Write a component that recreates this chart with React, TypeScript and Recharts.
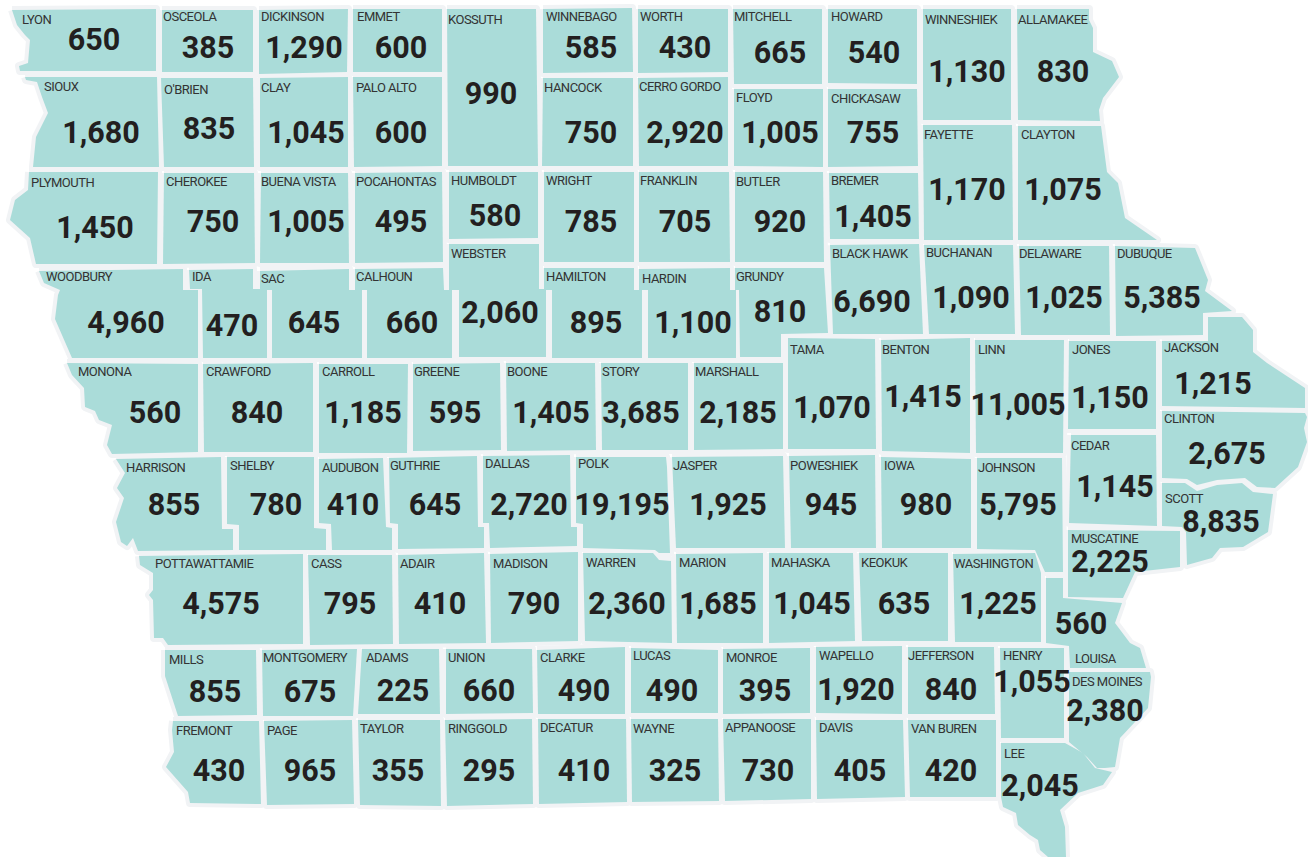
import { ScatterChart, Scatter, XAxis, YAxis } from 'recharts';

const WIDTH = 1308;
const HEIGHT = 857;

// every list below runs in the same county order
const countyNames = [
  'LYON', 'OSCEOLA', 'DICKINSON', 'EMMET', 'KOSSUTH', 'WINNEBAGO', 'WORTH', 'MITCHELL', 'HOWARD', 'WINNESHIEK', 'ALLAMAKEE',
  'SIOUX', "O'BRIEN", 'CLAY', 'PALO ALTO', 'HANCOCK', 'CERRO GORDO', 'FLOYD', 'CHICKASAW', 'FAYETTE', 'CLAYTON',
  'PLYMOUTH', 'CHEROKEE', 'BUENA VISTA', 'POCAHONTAS', 'HUMBOLDT', 'WRIGHT', 'FRANKLIN', 'BUTLER', 'BREMER',
  'BLACK HAWK', 'BUCHANAN', 'DELAWARE', 'DUBUQUE', 'WEBSTER',
  'WOODBURY', 'IDA', 'SAC', 'CALHOUN', 'HAMILTON', 'HARDIN', 'GRUNDY',
  'TAMA', 'BENTON', 'LINN', 'JONES', 'JACKSON', 'CLINTON',
  'MONONA', 'CRAWFORD', 'CARROLL', 'GREENE', 'BOONE', 'STORY', 'MARSHALL', 'CEDAR',
  'HARRISON', 'SHELBY', 'AUDUBON', 'GUTHRIE', 'DALLAS', 'POLK', 'JASPER', 'POWESHIEK', 'IOWA', 'JOHNSON', 'SCOTT', 'MUSCATINE',
  'POTTAWATTAMIE', 'CASS', 'ADAIR', 'MADISON', 'WARREN', 'MARION', 'MAHASKA', 'KEOKUK', 'WASHINGTON', 'LOUISA',
  'MILLS', 'MONTGOMERY', 'ADAMS', 'UNION', 'CLARKE', 'LUCAS', 'MONROE', 'WAPELLO', 'JEFFERSON', 'HENRY', 'DES MOINES',
  'FREMONT', 'PAGE', 'TAYLOR', 'RINGGOLD', 'DECATUR', 'WAYNE', 'APPANOOSE', 'DAVIS', 'VAN BUREN', 'LEE',
];

const countyValues = [
  650, 385, 1290, 600, 990, 585, 430, 665, 540, 1130, 830,
  1680, 835, 1045, 600, 750, 2920, 1005, 755, 1170, 1075,
  1450, 750, 1005, 495, 580, 785, 705, 920, 1405,
  6690, 1090, 1025, 5385, 2060,
  4960, 470, 645, 660, 895, 1100, 810,
  1070, 1415, 11005, 1150, 1215, 2675,
  560, 840, 1185, 595, 1405, 3685, 2185, 1145,
  855, 780, 410, 645, 2720, 19195, 1925, 945, 980, 5795, 8835, 2225,
  4575, 795, 410, 790, 2360, 1685, 1045, 635, 1225, 560,
  855, 675, 225, 660, 490, 490, 395, 1920, 840, 1055, 2380,
  430, 965, 355, 295, 410, 325, 730, 405, 420, 2045,
];

// county shapes, in map units: x, y, x, y ...
const countyOutlines = [
  [12,10, 156,9, 156,71, 20,71, 19,66, 28,63, 30,40, 25,35, 17,25, 13,13],
  [162,10, 253,10, 253,72, 162,72],
  [259,10, 348,9, 347,72, 259,74],
  [353,9, 442,9, 442,72, 353,72],
  [447,9, 536,9, 538,166, 448,166],
  [543,9, 632,8, 633,72, 543,73],
  [638,9, 728,9, 728,72, 638,73],
  [733,9, 822,9, 822,84, 734,84],
  [828,9, 917,9, 917,84, 828,83],
  [923,9, 1011,9, 1011,120, 923,120],
  [1017,9, 1089,9, 1089,20, 1093,28, 1093,52, 1112,61, 1119,77, 1103,98, 1099,110, 1100,121, 1018,120],
  [25,77, 157,77, 159,167, 33,167, 36,137, 48,113, 42,97, 37,82, 26,80],
  [161,78, 253,78, 254,167, 164,167],
  [260,78, 348,77, 348,167, 260,167],
  [353,77, 442,77, 442,166, 354,167],
  [543,78, 633,78, 633,166, 542,166],
  [638,78, 728,77, 728,166, 639,166],
  [734,89, 823,89, 823,167, 734,166],
  [828,89, 917,89, 918,166, 828,167],
  [923,125, 1012,125, 1013,240, 924,240],
  [1018,126, 1101,126, 1107,172, 1118,183, 1125,218, 1157,240, 1018,240],
  [29,172, 158,172, 157,264, 36,264, 30,238, 10,220, 15,200, 28,190],
  [164,173, 254,173, 255,263, 163,264],
  [261,173, 348,173, 349,263, 260,263],
  [355,173, 442,172, 443,262, 355,263],
  [449,172, 538,172, 538,238, 449,239],
  [544,172, 634,172, 634,262, 544,262],
  [639,172, 729,172, 730,262, 639,262],
  [735,172, 823,172, 824,262, 735,262],
  [829,173, 918,173, 919,239, 830,239],
  [830,245, 919,244, 923,334, 833,334],
  [924,245, 1013,245, 1015,334, 929,334],
  [1019,246, 1109,246, 1110,335, 1021,335],
  [1115,246, 1195,248, 1208,280, 1205,291, 1232,311, 1203,313, 1203,335, 1116,336],
  [449,244, 539,244, 539,289, 546,289, 546,357, 459,357, 459,290, 449,290],
  [39,271, 183,269, 183,290, 198,290, 198,358, 72,358, 55,319, 58,295, 60,290, 44,283],
  [189,270, 253,269, 253,289, 267,289, 267,358, 203,358, 202,289, 190,289],
  [260,271, 349,269, 349,290, 362,290, 362,358, 272,358, 272,290, 260,290],
  [355,269, 443,268, 444,290, 452,290, 452,358, 367,358, 367,290, 355,290],
  [544,268, 634,268, 634,290, 642,290, 642,358, 552,358, 552,290, 544,290],
  [639,269, 730,268, 730,290, 736,290, 736,358, 648,358, 648,290, 639,290],
  [735,268, 824,268, 828,333, 781,334, 781,357, 740,357, 739,290, 735,290],
  [788,338, 875,339, 876,449, 788,449],
  [881,340, 970,338, 970,453, 882,451],
  [975,340, 1064,340, 1063,453, 976,453],
  [1069,341, 1156,341, 1156,429, 1068,429],
  [1162,341, 1208,341, 1208,317, 1242,317, 1253,330, 1253,352, 1267,363, 1305,388, 1305,408, 1162,406],
  [1162,411, 1305,413, 1307,417, 1304,428, 1307,442, 1298,467, 1287,477, 1275,488, 1257,487, 1245,478, 1217,480, 1197,485, 1187,479, 1162,478],
  [67,363, 198,364, 198,452, 112,454, 107,445, 112,425, 99,420, 95,411, 85,407, 84,388, 72,375],
  [203,364, 313,363, 313,452, 204,452],
  [319,364, 408,364, 407,453, 319,453],
  [413,364, 500,363, 501,450, 413,451],
  [506,363, 595,363, 596,450, 507,451],
  [601,363, 688,363, 688,450, 602,450],
  [694,363, 783,363, 783,449, 694,450],
  [1071,435, 1156,435, 1157,526, 1069,523],
  [116,459, 221,457, 222,529, 233,529, 233,550, 138,551, 133,538, 127,546, 121,542, 116,522, 124,498, 117,488, 125,473],
  [227,457, 314,457, 314,528, 326,529, 326,550, 239,550, 239,525, 227,524],
  [319,459, 383,458, 386,527, 392,528, 392,550, 332,550, 331,524, 319,523],
  [389,458, 477,456, 478,527, 484,527, 484,548, 398,549, 398,524, 390,523],
  [483,456, 570,455, 571,527, 577,527, 577,546, 490,548, 489,523, 483,523],
  [576,457, 666,457, 667,467, 670,553, 659,553, 655,550, 583,548, 583,524, 576,523],
  [672,457, 783,456, 785,548, 676,548],
  [789,456, 875,455, 876,548, 791,548],
  [881,457, 971,459, 971,548, 882,548],
  [977,458, 1062,458, 1063,572, 1045,572, 1035,550, 977,549],
  [1162,483, 1185,483, 1197,491, 1217,485, 1242,483, 1253,492, 1273,494, 1268,532, 1243,547, 1220,548, 1212,558, 1187,565, 1186,532, 1182,527, 1162,526],
  [1068,530, 1180,531, 1180,567, 1135,572, 1123,598, 1068,597],
  [139,556, 303,554, 303,644, 168,645, 163,638, 154,638, 153,600, 149,595, 153,590, 153,573, 140,565],
  [308,555, 392,555, 393,644, 310,645],
  [398,555, 484,553, 486,643, 399,644],
  [490,554, 578,552, 578,641, 491,643],
  [583,553, 653,553, 659,560, 671,561, 672,643, 585,641],
  [676,554, 763,553, 763,643, 677,643],
  [769,553, 853,553, 855,641, 769,643],
  [859,553, 948,553, 948,641, 862,641],
  [953,554, 1035,553, 1041,573, 1041,642, 955,642],
  [1046,578, 1063,578, 1063,598, 1122,603, 1115,623, 1130,643, 1140,648, 1146,668, 1070,668, 1069,646, 1046,643],
  [165,650, 256,650, 257,715, 178,716, 165,676],
  [262,650, 357,649, 353,716, 263,716],
  [362,649, 439,649, 440,714, 358,714],
  [446,649, 532,649, 533,713, 446,714],
  [537,650, 625,647, 625,714, 538,714],
  [631,648, 718,650, 718,713, 631,713],
  [723,649, 810,648, 810,713, 723,714],
  [816,647, 902,646, 902,714, 816,713],
  [908,647, 994,647, 995,714, 908,714],
  [1000,648, 1064,648, 1064,738, 1001,738],
  [1069,672, 1150,672, 1151,677, 1148,708, 1120,738, 1115,767, 1105,768, 1097,768, 1087,757, 1069,742],
  [173,721, 259,721, 261,804, 190,803, 188,792, 166,767, 174,752, 172,730],
  [264,721, 352,720, 354,804, 267,805],
  [358,720, 440,720, 441,806, 360,805],
  [445,720, 532,719, 533,804, 447,806],
  [538,719, 626,719, 627,802, 539,804],
  [631,719, 718,719, 719,801, 632,802],
  [723,719, 811,719, 811,799, 725,801],
  [816,720, 903,720, 905,797, 817,799],
  [908,720, 996,720, 996,797, 910,797],
  [1001,743, 1065,743, 1083,753, 1095,768, 1112,772, 1103,785, 1078,793, 1060,810, 1065,827, 1066,857, 1048,857, 1040,850, 1038,840, 1030,835, 1018,825, 1016,813, 1003,807, 1001,797],
];

const nameAnchors = [
  [22,24], [163,21], [261,21], [357,21], [448,24], [546,21], [640,21], [734,21], [831,21], [925,24], [1018,24],
  [44,91], [164,94], [261,92], [356,92], [544,92], [639,91], [736,102], [831,103], [924,139], [1021,139],
  [31,187], [166,186], [261,186], [356,186], [451,185], [546,185], [640,185], [736,186], [831,185],
  [832,258], [926,257], [1019,258], [1117,258], [451,258],
  [46,281], [192,281], [261,283], [356,281], [546,281], [642,283], [736,281],
  [790,354], [882,354], [978,354], [1072,354], [1164,352], [1164,423],
  [78,376], [206,376], [322,376], [414,376], [507,376], [602,376], [695,376], [1071,450],
  [126,472], [230,470], [322,472], [390,470], [485,468], [578,468], [673,470], [790,470], [884,470], [978,472], [1165,503], [1071,543],
  [155,568], [311,568], [400,568], [493,568], [586,567], [679,567], [771,567], [861,567], [954,568], [1075,663],
  [169,664], [263,662], [366,662], [448,662], [540,662], [633,660], [726,662], [819,660], [908,660], [1003,660], [1072,686],
  [176,735], [267,735], [360,733], [448,733], [540,732], [633,733], [725,732], [819,732], [911,733], [1004,758],
];

const valueAnchors = [
  [94,50], [208,58], [304,58], [401,58], [491,104], [591,58], [685,58], [780,63], [874,63], [967,82], [1063,82],
  [101,143], [209,139], [306,143], [401,143], [591,143], [685,143], [780,143], [873,143], [967,200], [1063,200],
  [95,238], [213,232], [306,232], [401,232], [495,226], [591,232], [685,232], [780,232], [873,227],
  [872,312], [971,308], [1064,308], [1162,308], [500,323],
  [126,333], [232,336], [314,333], [412,333], [596,333], [693,333], [780,322],
  [832,418], [923,407], [1018,415], [1110,408], [1213,394], [1227,464],
  [155,423], [257,423], [363,423], [455,423], [551,423], [641,423], [738,423], [1115,497],
  [174,515], [276,515], [353,515], [435,515], [529,515], [622,515], [728,515], [831,515], [926,515], [1018,515], [1221,532], [1110,572],
  [221,614], [350,614], [440,614], [534,614], [627,614], [718,614], [812,614], [904,614], [998,614], [1081,634],
  [215,702], [310,702], [403,701], [489,701], [584,701], [672,701], [765,701], [856,700], [951,700], [1032,692], [1105,721],
  [219,781], [310,781], [398,781], [489,781], [584,781], [675,781], [768,781], [860,781], [951,781], [1040,796],
];

const toPoints = (flat: number[]) => {
  const points: { x: number; y: number }[] = [];
  for (let i = 0; i < flat.length; i += 2) points.push({ x: flat[i], y: flat[i + 1] });
  points.push(points[0]); // close the shape
  return points;
};

const outlinePoints = countyOutlines.map(toPoints);

const nameData = countyNames.map((name, i) => ({ x: nameAnchors[i][0], y: nameAnchors[i][1], name }));
const valueData = countyValues.map((value, i) => ({
  x: valueAnchors[i][0],
  y: valueAnchors[i][1],
  text: value.toLocaleString('en-US'),
}));

const NoDot = () => <g />;

const NameLabel = ({ cx, cy, payload }: any) => (
  <text x={cx} y={cy} fontFamily="Roboto" fontSize={13} letterSpacing={-0.5} fill="#333333">
    {payload.name}
  </text>
);

const ValueLabel = ({ cx, cy, payload }: any) => (
  <text x={cx} y={cy} textAnchor="middle" fontFamily="Roboto" fontWeight={700} fontSize={30.5} fill="#231f20">
    {payload.text}
  </text>
);

export default function App() {
  return (
    <div style={{ position: 'absolute', left: 0, top: 0, width: WIDTH, height: HEIGHT, overflow: 'hidden', background: '#fff' }}>
      <ScatterChart width={WIDTH} height={HEIGHT} margin={{ top: 0, right: 0, bottom: 0, left: 0 }}>
        <XAxis type="number" dataKey="x" domain={[0, WIDTH]} hide />
        <YAxis type="number" dataKey="y" domain={[0, HEIGHT]} reversed hide />
        {/* grey borders go under every county so they merge into one outline */}
        {outlinePoints.map((points, i) => (
          <Scatter
            key={`border-${countyNames[i]}`}
            data={points}
            shape={NoDot}
            line={{ fill: '#f1f3f5', stroke: '#f1f3f5', strokeWidth: 8, strokeLinejoin: 'round' }}
            isAnimationActive={false}
          />
        ))}
        {outlinePoints.map((points, i) => (
          <Scatter
            key={`fill-${countyNames[i]}`}
            data={points}
            shape={NoDot}
            line={{ fill: '#aadcd9', stroke: 'none' }}
            isAnimationActive={false}
          />
        ))}
        <Scatter data={nameData} shape={NameLabel} isAnimationActive={false} />
        <Scatter data={valueData} shape={ValueLabel} isAnimationActive={false} />
      </ScatterChart>
    </div>
  );
}
